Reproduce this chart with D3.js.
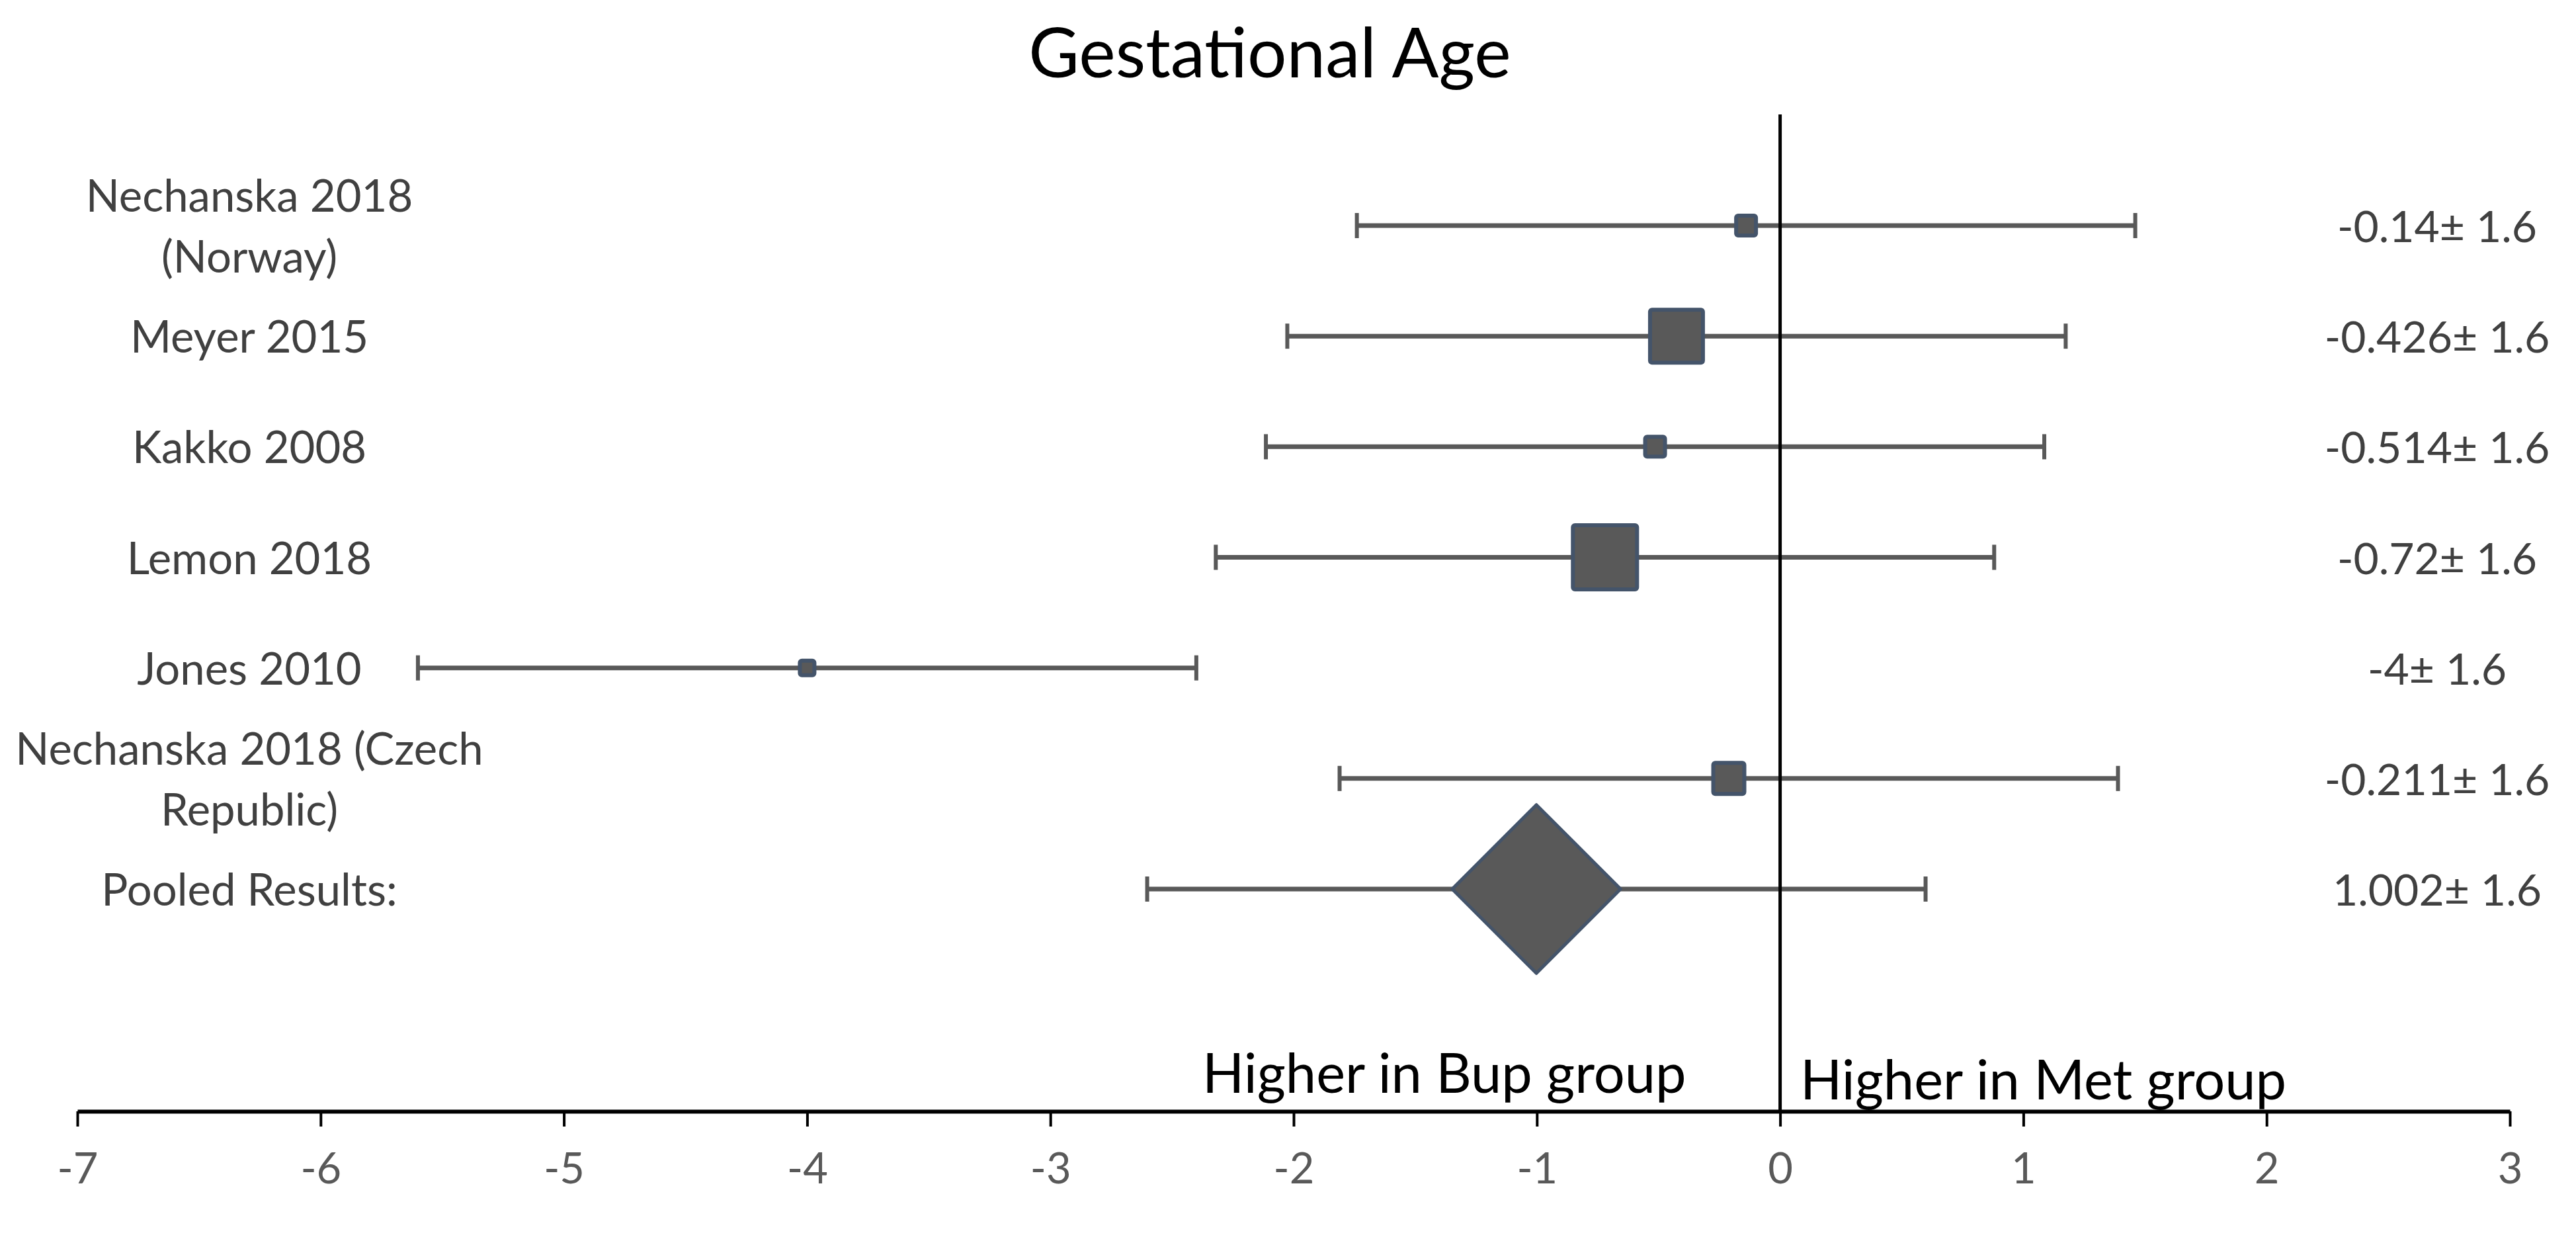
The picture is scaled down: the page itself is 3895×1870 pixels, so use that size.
<!DOCTYPE html>
<html>
<head>
<meta charset="utf-8">
<script src="https://cdn.jsdelivr.net/npm/d3@7"></script>
<style>
  body { margin: 0; background: #fff; }
  text { font-family: Lato, "Open Sans", sans-serif; }
</style>
</head>
<body>
<svg id="svg" width="3895" height="1870"></svg>
<script>
// study rows, top to bottom
const studies = [
    ["Nechanska 2018", "(Norway)"],
    ["Meyer 2015"],
    ["Kakko 2008"],
    ["Lemon 2018"],
    ["Jones 2010"],
    ["Nechanska 2018 (Czech", "Republic)"],
    ["Pooled Results:"]
];
const effects = [-0.14, -0.426, -0.514, -0.72, -4, -0.211, -1.002];
const halfCI = [1.6, 1.6, 1.6, 1.6, 1.6, 1.6, 1.6];
const weights = [30, 80, 30, 97, 22, 47, 180];   // marker size (last one = pooled diamond)
const valueLabels = ["-0.14\u00b1 1.6", "-0.426\u00b1 1.6", "-0.514\u00b1 1.6", "-0.72\u00b1 1.6",
                     "-4\u00b1 1.6", "-0.211\u00b1 1.6", "1.002\u00b1 1.6"];
const xTicks = [-7, -6, -5, -4, -3, -2, -1, 0, 1, 2, 3];

const svg = d3.select("#svg");

const x = d3.scaleLinear().domain([-7, 3]).range([117, 3795]);
const y = d3.scalePoint().domain(d3.range(studies.length)).range([341, 1344]);
const size = d3.scaleLinear().domain([0, 100]).range([0, 100]);
const axisY = 1680;
const topY = 173;

const rows = effects.map((e, i) => ({
    i: i, effect: e, lo: e - halfCI[i], hi: e + halfCI[i],
    w: weights[i], label: studies[i], value: valueLabels[i]
}));

// title
svg.append("text")
    .attr("x", 1920).attr("y", 117)
    .attr("text-anchor", "middle")
    .attr("font-size", 105)
    .attr("fill", "#000")
    .text("Gestational Age");

// error bars
const bars = svg.append("g");
bars.selectAll(".ci")
    .data(rows).enter().append("line")
    .attr("x1", d => x(d.lo)).attr("x2", d => x(d.hi))
    .attr("y1", d => y(d.i)).attr("y2", d => y(d.i))
    .attr("stroke", "#595959").attr("stroke-width", 7);

bars.selectAll(".cap")
    .data(rows.flatMap(d => [{i: d.i, v: d.lo}, {i: d.i, v: d.hi}]))
    .enter().append("line")
    .attr("x1", d => x(d.v)).attr("x2", d => x(d.v))
    .attr("y1", d => y(d.i) - 19).attr("y2", d => y(d.i) + 19)
    .attr("stroke", "#595959").attr("stroke-width", 6);

// zero line
svg.append("line")
    .attr("x1", x(0)).attr("x2", x(0))
    .attr("y1", topY).attr("y2", axisY)
    .attr("stroke", "#000").attr("stroke-width", 5);

// study squares
const studyRows = rows.slice(0, rows.length - 1);
svg.selectAll(".sq")
    .data(studyRows).enter().append("rect")
    .attr("x", d => x(d.effect) - size(d.w) / 2)
    .attr("y", d => y(d.i) - size(d.w) / 2)
    .attr("width", d => size(d.w))
    .attr("height", d => size(d.w))
    .attr("rx", 3)
    .attr("fill", "#595959")
    .attr("stroke", "#44546A")
    .attr("stroke-width", 6);

// pooled diamond
const pooled = rows[rows.length - 1];
svg.append("path")
    .attr("d", d3.symbol(d3.symbolSquare, size(pooled.w) * size(pooled.w))())
    .attr("transform", `translate(${x(pooled.effect)},${y(pooled.i)}) rotate(45)`)
    .attr("fill", "#595959")
    .attr("stroke", "#44546A")
    .attr("stroke-width", 5)
    .attr("stroke-linejoin", "round");

// row labels
const labels = svg.append("g")
    .attr("font-size", 67)
    .attr("fill", "#404040")
    .attr("text-anchor", "middle");

labels.selectAll("text")
    .data(rows).enter().append("text")
    .attr("x", 377)
    .attr("y", d => y(d.i) + 25 - (d.label.length - 1) * 46)
    .selectAll("tspan")
    .data(d => d.label).enter().append("tspan")
    .attr("x", 377)
    .attr("dy", (d, k) => k === 0 ? 0 : 92)
    .text(d => d);

// value labels on the right
svg.append("g")
    .attr("font-size", 66)
    .attr("fill", "#404040")
    .attr("text-anchor", "middle")
    .selectAll("text")
    .data(rows).enter().append("text")
    .attr("x", 3685)
    .attr("y", d => y(d.i) + 25)
    .text(d => d.value);

// direction notes
svg.append("text")
    .attr("x", 1818).attr("y", 1652)
    .attr("font-size", 83).attr("fill", "#000")
    .text("Higher in Bup group");
svg.append("text")
    .attr("x", 2722).attr("y", 1662)
    .attr("font-size", 83).attr("fill", "#000")
    .text("Higher in Met group");

// x axis
const axis = svg.append("g")
    .attr("transform", `translate(0,${axisY})`)
    .call(d3.axisBottom(x)
        .tickValues(xTicks)
        .tickFormat(d => String(d))
        .tickSizeInner(23)
        .tickSizeOuter(0)
        .tickPadding(40));

axis.select(".domain").attr("stroke", "#000").attr("stroke-width", 6);
axis.selectAll(".tick line").attr("stroke", "#000").attr("stroke-width", 4);
axis.selectAll(".tick text")
    .attr("font-family", "Lato, sans-serif")
    .attr("font-size", 65)
    .attr("fill", "#595959");
</script>
</body>
</html>
